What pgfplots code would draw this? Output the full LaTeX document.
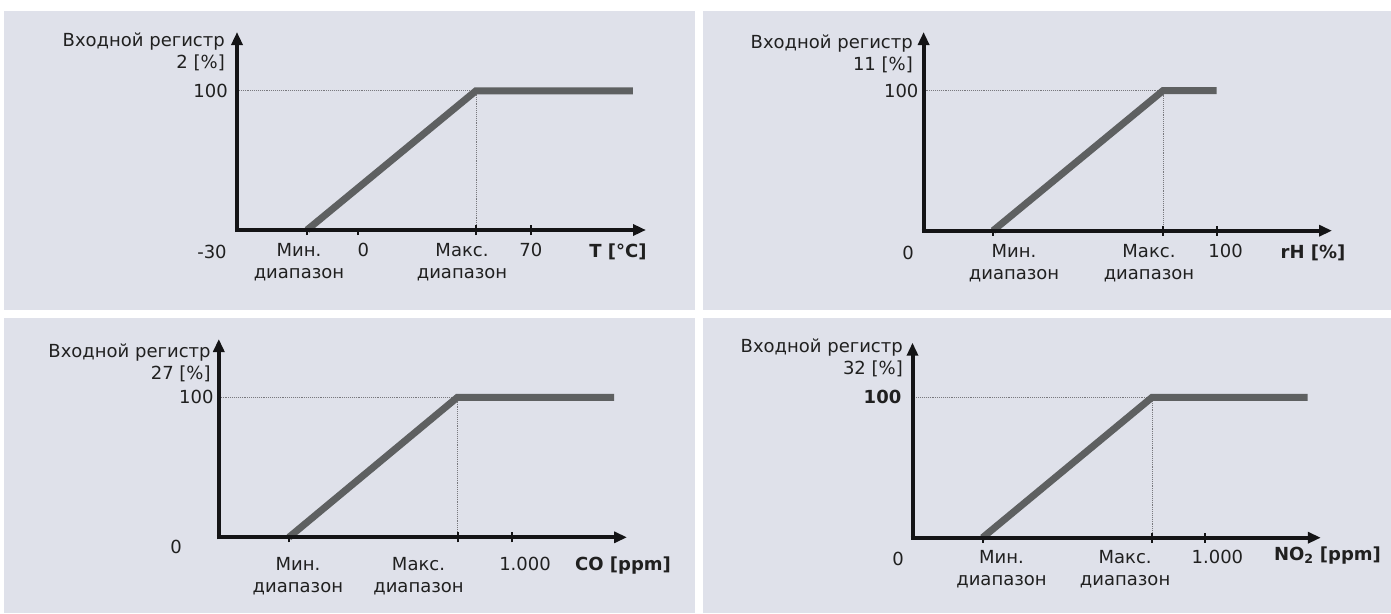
\documentclass[border=0pt]{standalone}
\usepackage{fontspec}
\setmainfont{DejaVu Sans}
\usepackage{pgfplots}
\pgfplotsset{compat=1.18}
\usetikzlibrary{arrows.meta}

\definecolor{bg}{RGB}{223,225,234}
\definecolor{txt}{RGB}{32,32,32}
\definecolor{lin}{RGB}{94,96,97}
\definecolor{axk}{RGB}{20,20,22}
\definecolor{dot}{RGB}{120,120,125}

\newcommand\fsz{\fontsize{18}{22}\selectfont}
% shifted, centred tick label (shift in pt)
\newcommand\lab[2]{\hspace*{#1pt}\begin{tabular}{@{}c@{}}#2\end{tabular}\hspace*{-#1pt}}

\pgfplotsset{
  panel/.style={
    scale only axis,
    axis lines=left,
    axis on top,
    clip=false,
    axis line style={line width=4pt, draw=axk, shorten <=-2pt, -{Triangle[length=13pt,width=11pt]}},
    ymin=0,
    ytick={100}, yticklabels={100},
    ytick style={draw=none},
    yticklabel style={anchor=east, inner sep=0pt, text=txt},
    xticklabel style={anchor=north, inner sep=0pt, text=txt},
    xtick style={draw=axk, line width=2pt},
    xtick align=center, major tick length=10pt,
    extra x tick style={tick align=outside, major tick length=5pt},
    every axis y label/.style={at={(rel axis cs:0,1)}, anchor=north east, align=right, text=txt, font=\fsz},
    every axis x label/.style={at={(rel axis cs:1,0)}, anchor=center, text=txt, font=\fsz\bfseries},
  },
  guide/.style={densely dotted, line width=0.9pt, draw=dot},
  ramp/.style={line width=7pt, draw=lin},
}

\begin{document}
\fsz
\begin{tikzpicture}[font=\fsz]
\path[use as bounding box] (0pt,0pt) rectangle (1391pt,-613pt);
\fill[white] (0pt,0pt) rectangle (1391pt,-613pt);
\fill[bg] (4pt,-11pt) rectangle (695pt,-310pt);
\fill[bg] (703pt,-11pt) rectangle (1391pt,-310pt);
\fill[bg] (4pt,-318pt) rectangle (695pt,-613pt);
\fill[bg] (703pt,-318pt) rectangle (1391pt,-613pt);

% T [°C]
\begin{axis}[panel,
  at={(237pt,-230pt)}, anchor=south west,
  width=409pt, height=198pt,
  xmin=-49.3, xmax=116.7, ymax=142.2,
  xtick={47.7,70},
  xticklabels={{\lab{-14}{Макс.\\диапазон}},{\lab{0}{70}}},
  extra x ticks={-20.9,0},
  extra x tick labels={{\lab{-8}{Мин.\\диапазон}},{\lab{5}{0}}},
  xticklabel style={yshift=-6pt},
  yticklabel style={xshift=-4pt},
  ylabel={Входной регистр\\2 [\%]},
  ylabel style={xshift=-6pt, yshift=5.5pt},
  xlabel={T [°C]},
  xlabel style={xshift=-28pt, yshift=-22pt},
]
\addplot[guide] coordinates {(-49.3,100) (47.7,100) (47.7,0)};
\addplot[ramp] coordinates {(-20.9,0) (47.7,100) (111.4,100)};
\node[text=txt] at (rel axis cs:0,0) [xshift=-25pt, yshift=-22pt] {-30};
\end{axis}

% rH [%]
\begin{axis}[panel,
  at={(923.6pt,-230.7pt)}, anchor=south west,
  width=408.4pt, height=198.7pt,
  xmin=0, xmax=139.4, ymax=141.9,
  xtick={81.7,100},
  xticklabels={{\lab{-14}{Макс.\\диапазон}},{\lab{9}{100}}},
  extra x ticks={23.7},
  extra x tick labels={{\lab{21}{Мин.\\диапазон}}},
  xticklabel style={yshift=-6pt},
  yticklabel style={xshift=0pt},
  ylabel={Входной регистр\\11 [\%]},
  ylabel style={xshift=-4.6pt, yshift=3.5pt},
  xlabel={rH [\%]},
  xlabel style={xshift=-19pt, yshift=-22pt},
]
\addplot[guide] coordinates {(0,100) (81.7,100) (81.7,0)};
\addplot[ramp] coordinates {(23.7,0) (81.7,100) (100,100)};
\node[text=txt] at (rel axis cs:0,0) [xshift=-15.6pt, yshift=-22.3pt] {0};
\end{axis}

% CO [ppm]
\begin{axis}[panel,
  at={(218.8pt,-537.3pt)}, anchor=south west,
  width=408.2pt, height=198.3pt,
  xmin=0, xmax=1392, ymax=141.6,
  xtick={814,1000},
  xticklabels={{\lab{-39}{Макс.\\диапазон}},{\lab{13}{1.000}}},
  extra x ticks={239},
  extra x tick labels={{\lab{9}{Мин.\\диапазон}}},
  xticklabel style={yshift=-13pt},
  yticklabel style={xshift=0pt},
  ylabel={Входной регистр\\27 [\%]},
  ylabel style={xshift=-2pt, yshift=1.5pt},
  xlabel={CO [ppm]},
  xlabel style={xshift=-4pt, yshift=-28pt},
]
\addplot[guide] coordinates {(0,100) (814,100) (814,0)};
\addplot[ramp] coordinates {(239,0) (814,100) (1348,100)};
\node[text=txt] at (rel axis cs:0,0) [xshift=-42.8pt, yshift=-9.7pt] {0};
\end{axis}

% NO2 [ppm]
\begin{axis}[panel,
  at={(912.5pt,-537.7pt)}, anchor=south west,
  width=408.3pt, height=195pt,
  xmin=0, xmax=1394, ymax=138.9,
  xtick={818,1000},
  xticklabels={{\lab{-27}{Макс.\\диапазон}},{\lab{12}{1.000}}},
  extra x ticks={239},
  extra x tick labels={{\lab{19}{Мин.\\диапазон}}},
  xticklabel style={yshift=-5pt},
  yticklabels={\textbf{100}},
  yticklabel style={xshift=-6pt},
  ylabel={Входной регистр\\32 [\%]},
  ylabel style={xshift=-3.5pt, yshift=9.7pt},
  xlabel={NO\textsubscript{2} [ppm]},
  xlabel style={xshift=6.7pt, yshift=-17.5pt},
]
\addplot[guide] coordinates {(0,100) (818,100) (818,0)};
\addplot[ramp] coordinates {(239,0) (818,100) (1349,100)};
\node[text=txt] at (rel axis cs:0,0) [xshift=-14.5pt, yshift=-21.3pt] {0};
\end{axis}
\end{tikzpicture}
\end{document}
